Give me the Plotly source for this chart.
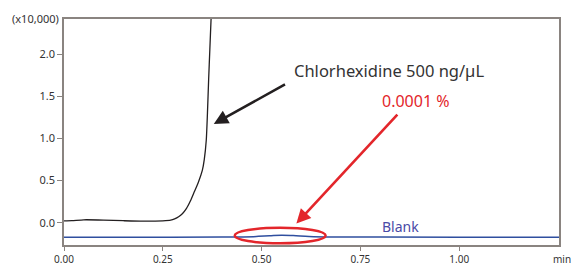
import plotly.graph_objects as go

# Chlorhexidine 500 ng/uL trace (min, x10,000)
chx_time = [0.00, 0.02, 0.05, 0.10, 0.15, 0.20, 0.25, 0.27, 0.28, 0.29, 0.30, 0.31, 0.32,
            0.33, 0.34, 0.35, 0.355, 0.36, 0.363, 0.366, 0.369, 0.372, 0.375]
chx_signal = [0.022, 0.025, 0.035, 0.032, 0.024, 0.018, 0.022, 0.03, 0.045, 0.07, 0.11, 0.17, 0.26,
              0.37, 0.48, 0.62, 0.75, 0.98, 1.3, 1.7, 2.05, 2.4, 2.7]

# Blank trace
blank_time = [0.00, 0.20, 0.40, 0.48, 0.52, 0.55, 0.58, 0.62, 0.68, 0.80, 1.00, 1.26]
blank_signal = [-0.172, -0.172, -0.170, -0.165, -0.155, -0.148, -0.152, -0.162, -0.168, -0.170, -0.172, -0.172]

x_ticks = [0.00, 0.25, 0.50, 0.75, 1.00]
y_ticks = [0.0, 0.5, 1.0, 1.5, 2.0]

BLACK = "#231f20"
BLUE = "#2f4f9f"
RED = "#e3262b"
AXIS = "#8a8480"
FONT = "Noto Sans"

fig = go.Figure()
fig.add_trace(go.Scatter(x=blank_time, y=blank_signal, mode="lines",
                         line=dict(color=BLUE, width=1.5, shape="spline"), hoverinfo="skip"))
fig.add_trace(go.Scatter(x=chx_time, y=chx_signal, mode="lines",
                         line=dict(color=BLACK, width=1.3, shape="spline", smoothing=0.6), hoverinfo="skip"))

fig.add_shape(type="circle", xref="x", yref="y", x0=0.432, x1=0.662, y0=-0.244, y1=-0.06,
              line=dict(color=RED, width=2.5))

fig.add_annotation(x=0.379, y=1.17, ax=0.563, ay=1.65, xref="x", yref="y", axref="x", ayref="y",
                   text="", showarrow=True, arrowhead=2, arrowsize=1.1, arrowwidth=2.6, arrowcolor=BLACK)
fig.add_annotation(x=0.588, y=-0.01, ax=0.847, ay=1.30, xref="x", yref="y", axref="x", ayref="y",
                   text="", showarrow=True, arrowhead=2, arrowsize=1.1, arrowwidth=2.6, arrowcolor=RED)

fig.add_annotation(x=0.576, y=1.81, xref="x", yref="y", text="Chlorhexidine 500 ng/µL",
                   showarrow=False, xanchor="left", yanchor="middle",
                   font=dict(family=FONT, size=16.5, color="#333333"))
fig.add_annotation(x=0.80, y=1.44, xref="x", yref="y", text="0.0001 %",
                   showarrow=False, xanchor="left", yanchor="middle",
                   font=dict(family=FONT, size=16, color=RED))
fig.add_annotation(x=0.80, y=-0.05, xref="x", yref="y", text="Blank",
                   showarrow=False, xanchor="left", yanchor="middle",
                   font=dict(family=FONT, size=14, color="#4a4aa6"))
fig.add_annotation(x=1.0, y=0, xref="paper", yref="paper", text="min",
                   showarrow=False, xanchor="left", yanchor="top", xshift=-8, yshift=-5,
                   font=dict(family=FONT, size=10, color="#333333"))
fig.add_annotation(x=0, y=1, xref="paper", yref="paper", text="(x10,000)",
                   showarrow=False, xanchor="right", yanchor="middle", xshift=-3, yshift=1,
                   font=dict(family=FONT, size=11, color="#333333"))

fig.update_layout(
    width=571, height=265,
    margin=dict(l=64, r=12, t=19, b=20),
    paper_bgcolor="white", plot_bgcolor="white",
    showlegend=False,
    font=dict(family=FONT, size=11, color="#333333"),
)
fig.update_xaxes(range=[0, 1.2525], tickvals=x_ticks, ticktext=[f"{v:.2f}" for v in x_ticks],
                 showgrid=False, zeroline=False, showline=True, linecolor=AXIS, linewidth=1.5,
                 mirror=True, ticks="outside", ticklen=4, tickcolor=AXIS, tickwidth=1.2,
                 automargin=False, tickfont=dict(size=10, color="#333333"))
fig.update_yaxes(range=[-0.264, 2.415], tickvals=y_ticks, ticktext=[f"{v:.1f}" for v in y_ticks],
                 showgrid=False, zeroline=False, showline=True, linecolor=AXIS, linewidth=1.5,
                 mirror=True, ticks="outside", ticklen=5, tickcolor=AXIS, tickwidth=1.2,
                 automargin=False, tickfont=dict(size=11, color="#333333"))

fig.write_html("out.html", config={"displayModeBar": False},
               post_script="document.body.style.margin='0';document.body.style.overflow='hidden';")
